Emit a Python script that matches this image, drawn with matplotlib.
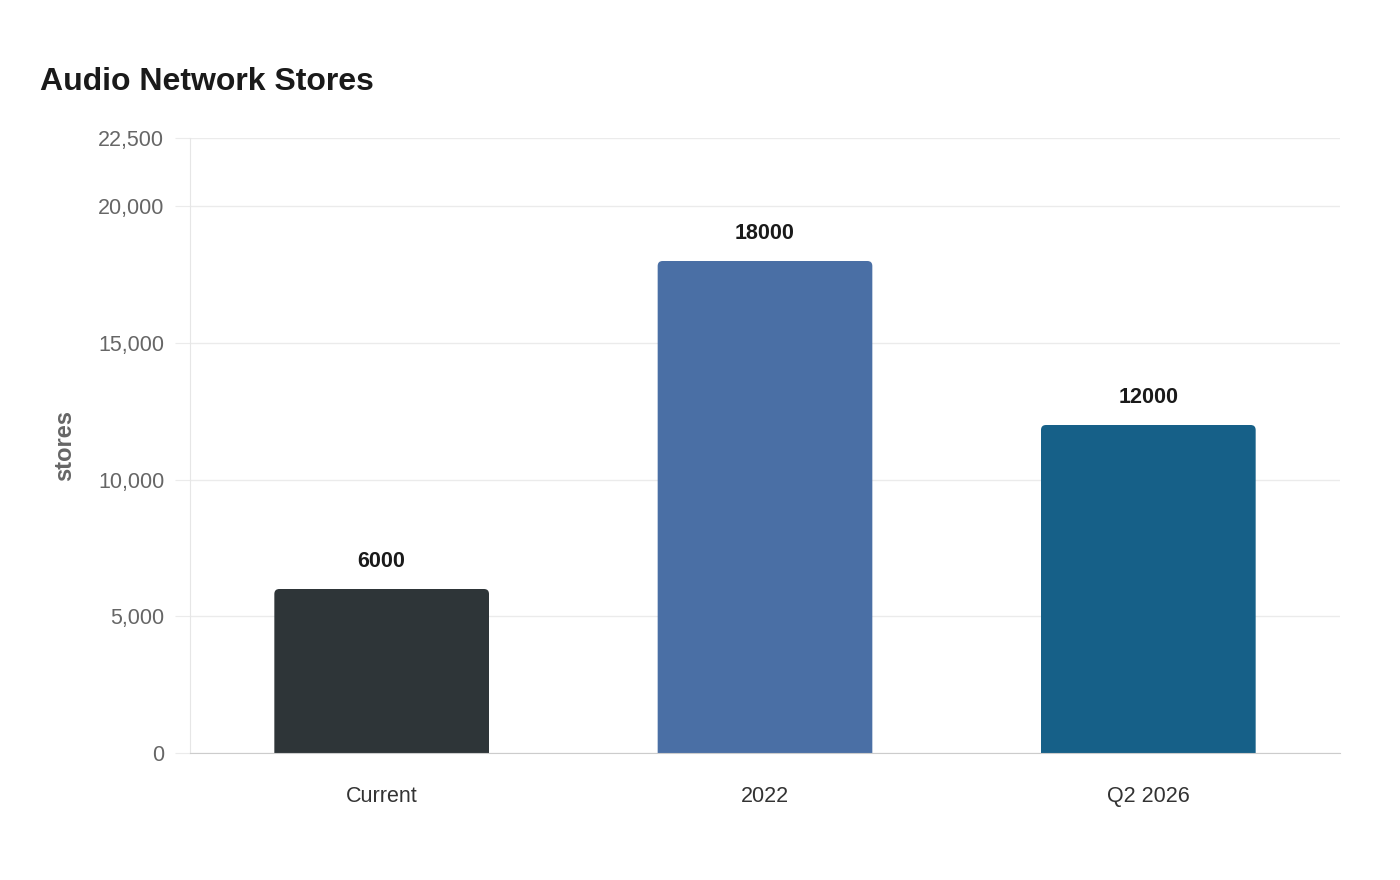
import matplotlib
matplotlib.use("Agg")
import matplotlib.pyplot as plt
from matplotlib.patches import FancyBboxPatch
from matplotlib.ticker import FuncFormatter

categories = ["Current", "2022", "Q2 2026"]
stores = [6000, 18000, 12000]
bar_colors = ["#2e3538", "#4a6fa5", "#166088"]
y_ticks = [0, 5000, 10000, 15000, 20000, 22500]

plt.rcParams['font.family'] = ['Liberation Sans', 'DejaVu Sans']

fig = plt.figure(figsize=(14, 8.8), dpi=100)
ax = fig.add_axes([190/1400, 1 - 753/880, 1150/1400, 615/880])

ax.set_xlim(-0.5, 2.5)
ax.set_ylim(0, 22500)

x = list(range(len(categories)))
bars = ax.bar(x, stores, width=0.56, color=bar_colors, zorder=3)

# round the top corners: swap each rectangle for a rounded box (bottom
# corners pushed below the axis so they get clipped)
px_x = 3.0 / 1150      # data units per pixel, x
px_y = 22500 / 615     # data units per pixel, y
r = 5
for b in bars:
    b.set_visible(False)
    rb = FancyBboxPatch((b.get_x(), -r * px_y), b.get_width(),
                        b.get_height() + r * px_y,
                        boxstyle=f"round,pad=0,rounding_size={r * px_x}",
                        mutation_aspect=px_y / px_x,
                        facecolor=b.get_facecolor(), edgecolor='none',
                        zorder=3)
    ax.add_patch(rb)

for xi, v in zip(x, stores):
    ax.annotate(str(v), (xi, v), xytext=(0, 19.5), textcoords='offset points',
                ha='center', va='center', fontsize=15.5, fontweight='bold',
                color='#1a1a1a')

ax.set_yticks(y_ticks)
ax.yaxis.set_major_formatter(FuncFormatter(lambda v, p: f"{int(v):,}"))
ax.set_xticks(x)
ax.set_xticklabels(categories)

ax.grid(axis='y', color='#ebebeb', linewidth=1, zorder=0)
ax.tick_params(axis='y', length=11, color='#ebebeb', pad=7.5, labelsize=15.5,
               labelcolor='#666666')
ax.tick_params(axis='x', length=0, pad=24, labelsize=15.5, labelcolor='#333333')

for side in ['top', 'right']:
    ax.spines[side].set_visible(False)
ax.spines['left'].set_color('#e6e6e6')
ax.spines['bottom'].set_color('#cccccc')
ax.spines['bottom'].set_zorder(4)

ax.set_ylabel('stores', fontsize=17, fontweight='bold', color='#666666',
              labelpad=16)

fig.text(40/1400, 1 - 82/880, 'Audio Network Stores', fontsize=23,
         fontweight='bold', color='#1a1a1a', ha='left', va='center')

fig.savefig('out.png', dpi=100)
